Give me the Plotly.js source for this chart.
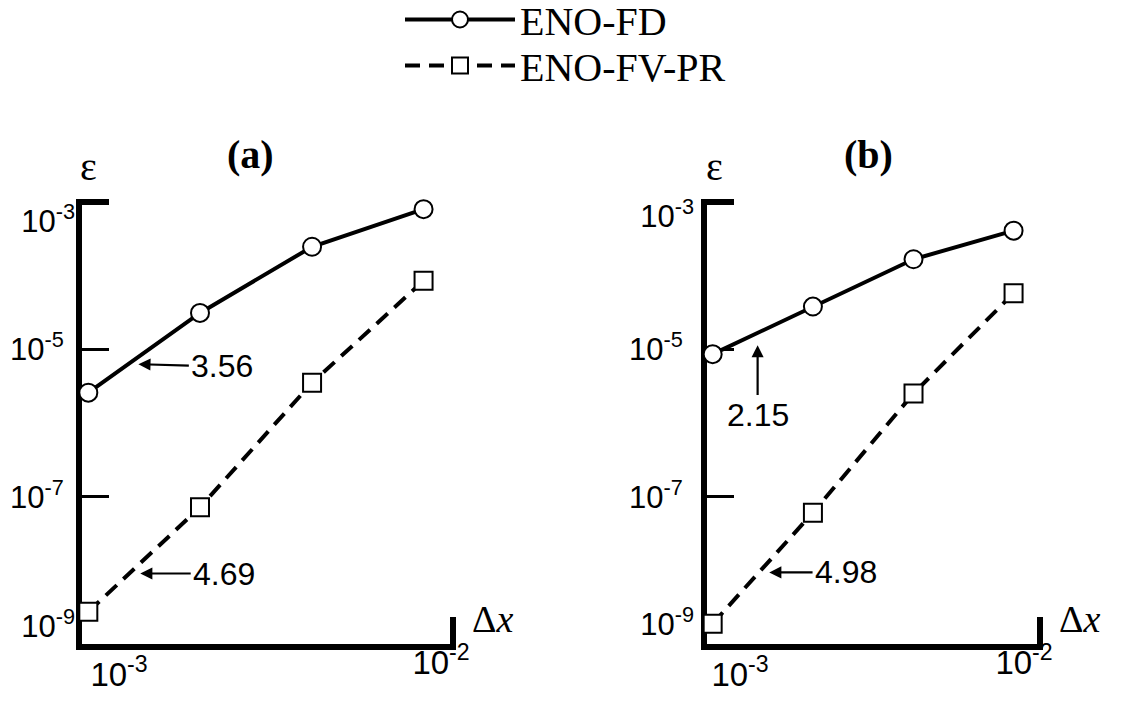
<!DOCTYPE html>
<html>
<head>
<meta charset="utf-8">
<script src="https://cdn.plot.ly/plotly-3.0.1.min.js"></script>
<style>html,body{margin:0;padding:0;background:#fff;}#chart{width:1142px;height:715px;}</style>
</head>
<body>
<div id="chart"></div>
<script>
// ---- data ----
const dx = [0.00104, 0.00208, 0.00417, 0.00833];
const errFD_a = [2.58e-6, 3.12e-5, 2.47e-4, 8.0e-4];
const errFV_a = [2.74e-9, 7.18e-8, 3.52e-6, 8.53e-5];
const errFD_b = [8.6e-6, 3.81e-5, 1.67e-4, 4.08e-4];
const errFV_b = [1.89e-9, 6.07e-8, 2.52e-6, 5.77e-5];
const seriesNames = ['ENO-FD', 'ENO-FV-PR'];
const panelTitles = ['(a)', '(b)'];
const xTickVals = [1e-3, 1e-2];
const xTickText = ['10<sup>-3</sup>', '10<sup>-2</sup>'];
const yTickVals = [1e-3, 1e-5, 1e-7, 1e-9];
const yTickText = ['10<sup>-3</sup>', '10<sup>-5</sup>', '10<sup>-7</sup>', '10<sup>-9</sup>'];
const slopeLabels = ['3.56', '4.69', '2.15', '4.98'];

const W = 1142, H = 715;
const domA = [82 / W, 453 / W];
const domB = [707 / W, 1040 / W];
const domY = [1 - 644 / H, 1 - 202 / H];

const yTickFont = {family: 'Liberation Sans, Arial, sans-serif', size: 31, color: '#000'};
const xTickFont = {family: 'Liberation Sans, Arial, sans-serif', size: 33, color: '#000'};
const serif = 'Liberation Serif, Times New Roman, serif';

function fdTrace(y, xa, ya, show) {
  return {x: dx, y: y, xaxis: xa, yaxis: ya, type: 'scatter', mode: 'lines+markers',
    name: seriesNames[0], legend: 'legend', showlegend: show, cliponaxis: false,
    line: {color: '#000', width: 4},
    marker: {symbol: 'circle', size: 18, color: '#fff', line: {color: '#000', width: 2}}};
}
function fvTrace(y, xa, ya, show) {
  return {x: dx, y: y, xaxis: xa, yaxis: ya, type: 'scatter', mode: 'lines+markers',
    name: seriesNames[1], legend: 'legend2', showlegend: show, cliponaxis: false,
    line: {color: '#000', width: 4, dash: '15px,9px'},
    marker: {symbol: 'square', size: 18, color: '#fff', line: {color: '#000', width: 2}}};
}
// empty carrier traces so that the overlaying label axes get their subplots
function carrier(xa, ya) {
  return {x: [], y: [], xaxis: xa, yaxis: ya, type: 'scatter', mode: 'markers',
    showlegend: false, hoverinfo: 'skip'};
}

const data = [
  fdTrace(errFD_a, 'x', 'y', true),
  fvTrace(errFV_a, 'x', 'y', true),
  fdTrace(errFD_b, 'x2', 'y2', false),
  fvTrace(errFV_b, 'x2', 'y2', false),
  carrier('x3', 'y3'),
  carrier('x4', 'y4'),
  carrier('x', 'y5'),
  carrier('x2', 'y6')
];

function mainX(dom, yref, shift) {
  return {domain: dom, anchor: yref, type: 'log', range: [-3, -2], autorange: false,
    showline: true, linewidth: 6, linecolor: '#000', showgrid: false, zeroline: false,
    ticks: '', tickvals: [xTickVals[0]], ticktext: [xTickText[0]], tickfont: xTickFont,
    ticklabelshift: shift, ticklabelstandoff: -4, layer: 'below traces', fixedrange: true};
}
function overX(over, yref, shift) {
  return {overlaying: over, anchor: yref, type: 'log', range: [-3, -2], autorange: false,
    showline: false, showgrid: false, zeroline: false, ticks: '',
    tickvals: [xTickVals[1]], ticktext: [xTickText[1]], tickfont: xTickFont,
    ticklabelshift: shift, ticklabelstandoff: -4, fixedrange: true};
}
function mainY(xref, standoff) {
  return {domain: domY, anchor: xref, type: 'log', range: [-9, -3], autorange: false,
    showline: true, linewidth: 6, linecolor: '#000', showgrid: false, zeroline: false,
    ticks: 'inside', ticklen: 27, tickwidth: 2.5, tickcolor: '#000',
    tickvals: [yTickVals[1], yTickVals[2]], ticktext: [yTickText[1], yTickText[2]],
    tickfont: yTickFont, ticklabelstandoff: standoff, layer: 'below traces', fixedrange: true};
}
function overY(over, xref, i, shift, standoff) {
  return {overlaying: over, anchor: xref, type: 'log', range: [-9, -3], autorange: false,
    showline: false, showgrid: false, zeroline: false, ticks: '',
    tickvals: [yTickVals[i]], ticktext: [yTickText[i]], tickfont: yTickFont,
    ticklabelshift: shift, ticklabelstandoff: standoff, fixedrange: true};
}

// thick end caps of the axes (top of the y axis, right end of the x axis)
function caps(xa, ya) {
  const ln = {color: '#000', width: 6};
  return [
    {type: 'line', xref: xa + ' domain', yref: ya + ' domain', xsizemode: 'pixel', xanchor: 0,
      x0: -6, x1: 27, y0: 1, y1: 1, line: ln},
    {type: 'line', xref: xa + ' domain', yref: ya + ' domain', ysizemode: 'pixel', yanchor: 0,
      x0: 1, x1: 1, y0: -6, y1: 27, line: ln}
  ];
}

const L = Math.log10;
function slopeAnn(i, xr, yr, hx, hy, tx, ty, vertical) {
  return {xref: xr, yref: yr, axref: xr, ayref: yr,
    x: L(hx), y: L(hy), ax: L(tx), ay: L(ty),
    text: slopeLabels[i], showarrow: true, arrowhead: 2, arrowsize: 1.1, arrowwidth: 2.2,
    arrowcolor: '#000', standoff: 0,
    xanchor: vertical ? 'center' : 'left', yanchor: vertical ? 'top' : 'middle',
    font: {family: 'Liberation Sans, Arial, sans-serif', size: 32, color: '#000'}};
}
function label(text, px, py, size, xa, ya) {
  return {xref: 'paper', yref: 'paper', x: px / W, y: 1 - py / H, xanchor: xa, yanchor: ya,
    text: text, showarrow: false, font: {family: serif, size: size, color: '#000'}};
}

const annotations = [
  label('<b>' + panelTitles[0] + '</b>', 250, 154, 40, 'center', 'middle'),
  label('<b>' + panelTitles[1] + '</b>', 868, 154, 40, 'center', 'middle'),
  label('ε', 88, 166, 40, 'center', 'middle'),
  label('ε', 714, 166, 40, 'center', 'middle'),
  label('Δ<i>x</i>', 470, 642, 38, 'left', 'bottom'),
  label('Δ<i>x</i>', 1057, 642, 38, 'left', 'bottom'),
  slopeAnn(0, 'x', 'y', 10 ** -2.848, 10 ** -5.201, 10 ** -2.712, 10 ** -5.22, false),
  slopeAnn(1, 'x', 'y', 10 ** -2.843, 10 ** -8.043, 10 ** -2.707, 10 ** -8.043, false),
  slopeAnn(2, 'x2', 'y2', 10 ** -2.848, 10 ** -4.943, 10 ** -2.848, 10 ** -5.62, true),
  slopeAnn(3, 'x2', 'y2', 10 ** -2.813, 10 ** -8.028, 10 ** -2.683, 10 ** -8.028, false)
];

const legendBase = {xanchor: 'left', yanchor: 'top', orientation: 'v', itemwidth: 110,
  bgcolor: 'rgba(0,0,0,0)', borderwidth: 0, font: {family: serif, size: 40, color: '#000'}};

const layout = {
  width: W, height: H,
  margin: {l: 0, r: 0, t: 0, b: 0, autoexpand: false},
  paper_bgcolor: '#fff', plot_bgcolor: 'rgba(0,0,0,0)',
  showlegend: true,
  legend: Object.assign({x: 400 / W, y: 1 + 13 / H}, legendBase),
  legend2: Object.assign({x: 400 / W, y: 1 - 33 / H}, legendBase),
  xaxis: mainX(domA, 'y', 37),
  xaxis2: mainX(domB, 'y2', 33),
  xaxis3: overX('x', 'y', -12),
  xaxis4: overX('x2', 'y2', -16),
  yaxis: mainY('x', 6),
  yaxis2: mainY('x2', 12),
  yaxis3: overY('y', 'x', 0, 19, 6),
  yaxis4: overY('y2', 'x2', 0, 14, 12),
  yaxis5: overY('y', 'x', 3, -18, 6),
  yaxis6: overY('y2', 'x2', 3, -20, 12),
  shapes: caps('x', 'y').concat(caps('x2', 'y2')),
  annotations: annotations
};

Plotly.newPlot('chart', data, layout, {displayModeBar: false, staticPlot: true});
</script>
</body>
</html>
